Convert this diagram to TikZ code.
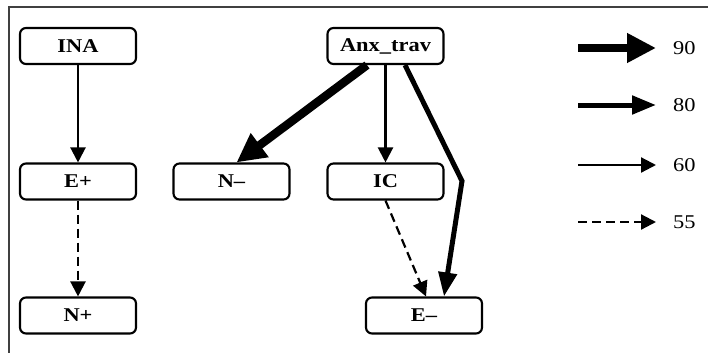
\documentclass[tikz,border=0pt]{standalone}
\usepackage{fontspec}
\setmainfont{Liberation Serif}[FakeStretch=1.15]
\usetikzlibrary{arrows.meta,calc}
\begin{document}
\begin{tikzpicture}[x=1pt,y=-1pt,
 box/.style={draw, line width=2.1pt, rounded corners=6pt, minimum width=116pt, minimum height=36pt, inner sep=0pt, font=\fontsize{19.5}{22}\selectfont\bfseries},
 w60/.style={line width=2.2pt, -{Triangle[length=15pt,width=15pt]}},
 w55/.style={w60, dash pattern=on 9pt off 5pt},
 w80/.style={line width=5pt, -{Triangle[length=24pt,width=18pt]}},
 w90/.style={line width=8.5pt, -{Triangle[length=29pt,width=28pt]}},
 lab/.style={font=\fontsize{19.5}{22}\selectfont, anchor=west, inner sep=0pt},
 frame/.style={line width=1.5pt, draw=black!75}]
\useasboundingbox (0,0) rectangle (708,353);
\draw[frame] (708,7) -- (9,7) -- (9,353);
% nodes
\node[box] (ina) at (78,46) {INA};
\node[box] (anx) at (385.5,46) {Anx\_trav};
\node[box] (ep) at (78,181.5) {E+};
\node[box] (nm) at (231.5,181.5) {N–};
\node[box] (ic) at (385.5,181.5) {IC};
\node[box] (np) at (78,315.5) {N+};
\node[box] (em) at (424,315.5) {E–};
\coordinate (bend) at (462,181);
% connectors
\draw[w60] (ina) -- (ep);
\draw[w55] (ep) -- (np);
\draw[w90] ([xshift=-18.5pt]anx.south) -- ([xshift=5pt]nm.north);
\draw[w60] (anx) -- (ic);
\draw[w80] ([xshift=19.5pt]anx.south) -- (bend) -- ([xshift=20pt]em.north);
\draw[w55] (ic.south) -- ([xshift=2pt]em.north);
% legend
\node[lab] (t90) at (673,48) {90};
\node[lab] (t80) at (673,105) {80};
\node[lab] (t60) at (673,165) {60};
\node[lab] (t55) at (673,222) {55};
\coordinate (s90) at (578,48);
\coordinate (s80) at (578,105);
\coordinate (s60) at (578,165);
\coordinate (s55) at (578,222);
\draw[w90] (s90) -- ([xshift=-17pt]t90.west);
\draw[w80] (s80) -- ([xshift=-17pt]t80.west);
\draw[w60] (s60) -- ([xshift=-17pt]t60.west);
\draw[w55] (s55) -- ([xshift=-17pt]t55.west);
\end{tikzpicture}
\end{document}
